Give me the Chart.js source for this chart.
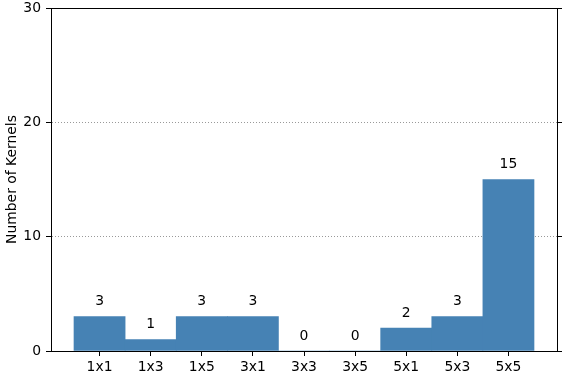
<!DOCTYPE html>
<html>
<head>
<meta charset="utf-8">
<script src="https://cdn.jsdelivr.net/npm/chart.js@4"></script>
<style>
  html, body { margin: 0; padding: 0; background: #fff; }
  #wrap { width: 568px; height: 386px; }
</style>
</head>
<body>
<div id="wrap"><canvas id="chart" width="568" height="386"></canvas></div>
<script>
const categories = ['1x1', '1x3', '1x5', '3x1', '3x3', '3x5', '5x1', '5x3', '5x5'];
const kernelCounts = [3, 1, 3, 3, 0, 0, 2, 3, 15];
const yTicks = [0, 10, 20, 30];

const FONT = { family: 'DejaVu Sans', size: 13.9 };

// value labels above each bar
const barLabels = {
  id: 'barLabels',
  afterDatasetsDraw(chart) {
    const ctx = chart.ctx;
    const meta = chart.getDatasetMeta(0);
    ctx.save();
    ctx.font = FONT.size + 'px ' + FONT.family;
    ctx.fillStyle = '#000';
    ctx.textAlign = 'center';
    ctx.textBaseline = 'middle';
    meta.data.forEach((el, i) => {
      ctx.fillText(String(kernelCounts[i]), el.x, el.y - 15);
    });
    ctx.restore();
  }
};

const noPad = s => { s.paddingTop = 0; s.paddingBottom = 0; s.paddingLeft = 0; s.paddingRight = 0; };
const xMin = -0.95, xMax = categories.length - 1 + 0.95;

new Chart(document.getElementById('chart'), {
  type: 'bar',
  data: {
    datasets: [{
      data: kernelCounts.map((v, i) => ({ x: i, y: v })),
      backgroundColor: '#4682B4',
      borderWidth: 0,
      barPercentage: 1,
      categoryPercentage: 1,
    }]
  },
  options: {
    responsive: false,
    animation: false,
    events: [],
    layout: { padding: 0 },
    plugins: { legend: { display: false }, tooltip: { enabled: false } },
    scales: {
      x: {
        type: 'linear',
        offset: false,
        min: xMin, max: xMax,
        afterBuildTicks: s => { s.ticks = categories.map((c, i) => ({ value: i })); },
        afterFit: s => { s.height = 35; noPad(s); },
        ticks: { callback: v => categories[v], font: FONT, color: '#000', padding: 3, maxRotation: 0 },
        grid: { offset: false, drawOnChartArea: false, tickLength: 5, tickColor: '#000' },
        border: { color: '#000', width: 1 },
      },
      x2: {
        type: 'linear',
        position: 'top',
        offset: false,
        min: xMin, max: xMax,
        afterFit: s => { s.height = 8; noPad(s); },
        ticks: { display: false },
        grid: { offset: false, drawOnChartArea: false, drawTicks: false },
        border: { color: '#000', width: 1 },
      },
      y: {
        min: 0, max: 30,
        afterBuildTicks: s => { s.ticks = yTicks.map(v => ({ value: v })); },
        afterFit: s => { s.width = 51; noPad(s); },
        ticks: { font: FONT, color: '#000', padding: 5 },
        title: { display: true, text: 'Number of Kernels', font: FONT, color: '#000', padding: { top: 4, bottom: 0 } },
        grid: { color: '#999', lineWidth: 1, tickLength: 5, tickColor: '#000', tickBorderDash: [] },
        border: { color: '#000', width: 1, dash: [1, 2] },
      },
      y2: {
        position: 'right',
        min: 0, max: 30,
        afterBuildTicks: s => { s.ticks = yTicks.map(v => ({ value: v })); },
        afterFit: s => { s.width = 11; noPad(s); },
        ticks: { display: false },
        grid: { drawOnChartArea: false, tickLength: 5, tickColor: '#000' },
        border: { color: '#000', width: 1 },
      }
    }
  },
  plugins: [barLabels]
});
</script>
</body>
</html>
